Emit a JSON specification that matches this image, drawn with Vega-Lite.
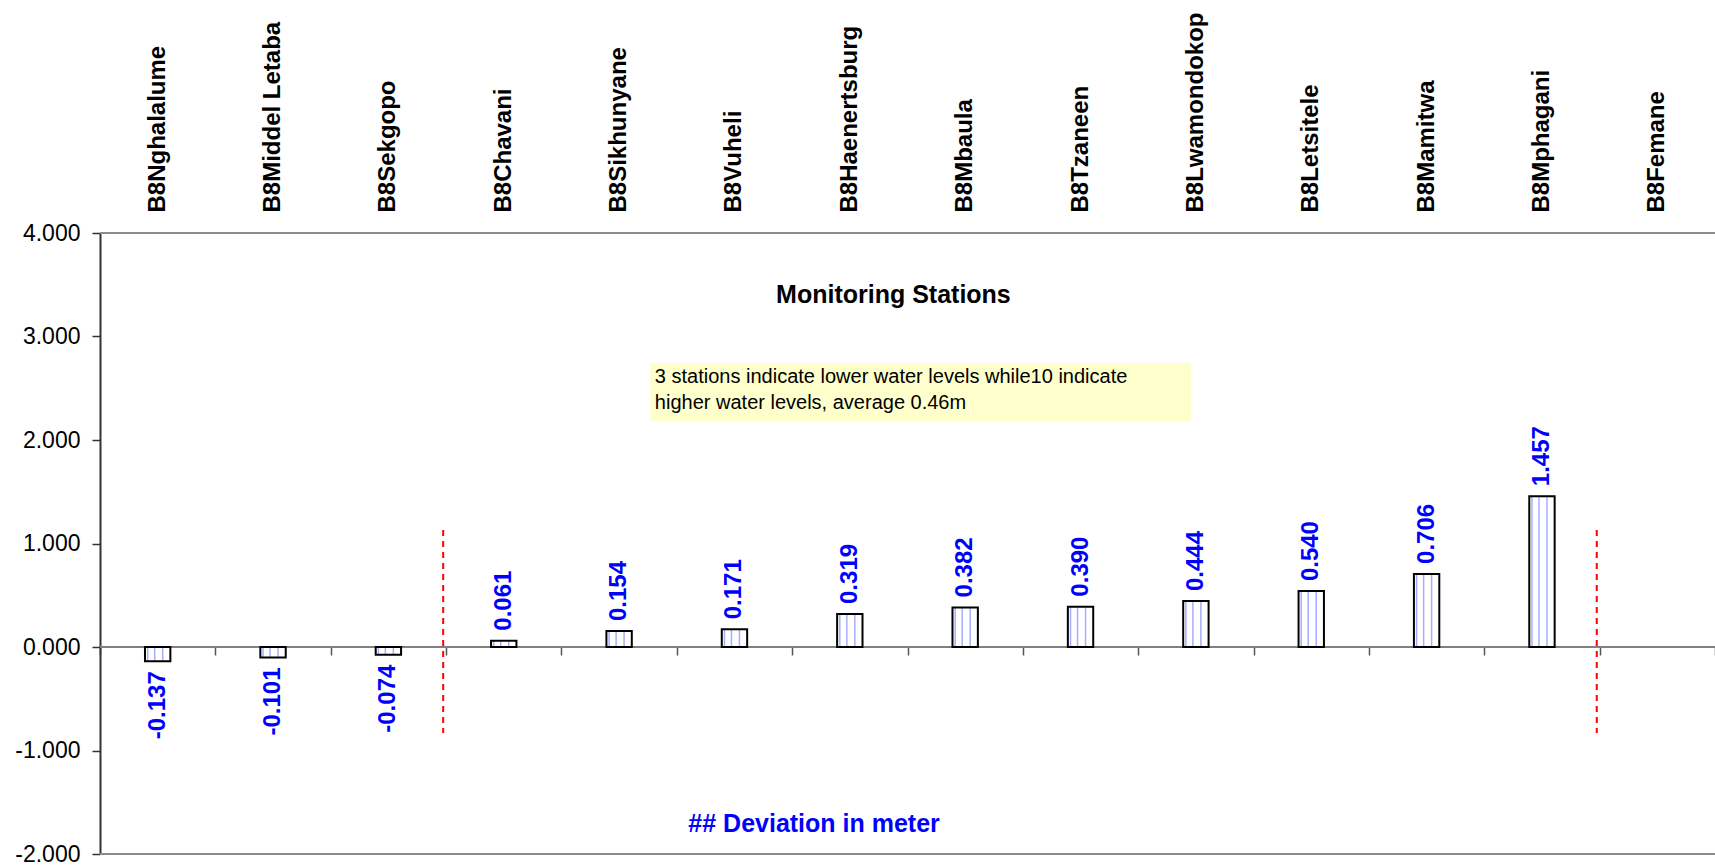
{
  "$schema": "https://vega.github.io/schema/vega-lite/v6.json",
  "width": 1615,
  "height": 621,
  "autosize": {"type": "none"},
  "padding": {"left": 100, "top": 233, "right": 0, "bottom": 13},
  "config": {
    "view": {"stroke": null},
    "font": "Liberation Sans",
    "locale": {"number": {"decimal": ".", "thousands": ",", "grouping": [3], "currency": ["$", ""], "minus": "-"}}
  },
  "datasets": {
    "stations": [
      {"station": "B8Nghalalume", "value": -0.137},
      {"station": "B8Middel Letaba", "value": -0.101},
      {"station": "B8Sekgopo", "value": -0.074},
      {"station": "B8Chavani", "value": 0.061},
      {"station": "B8Sikhunyane", "value": 0.154},
      {"station": "B8Vuheli", "value": 0.171},
      {"station": "B8Haenertsburg", "value": 0.319},
      {"station": "B8Mbaula", "value": 0.382},
      {"station": "B8Tzaneen", "value": 0.390},
      {"station": "B8Lwamondokop", "value": 0.444},
      {"station": "B8Letsitele", "value": 0.540},
      {"station": "B8Mamitwa", "value": 0.706},
      {"station": "B8Mphagani", "value": 1.457},
      {"station": "B8Femane", "value": null}
    ],
    "dividers": [
      {"station": "B8Sekgopo", "top": 1.13, "bottom": -0.83},
      {"station": "B8Mphagani", "top": 1.13, "bottom": -0.83}
    ],
    "box": [
      {"station": "B8Sikhunyane", "station2": "B8Lwamondokop", "top": 2.744, "bottom": 2.184}
    ],
    "note": [
      {"station": "B8Sikhunyane", "y": 2.605, "text": "3 stations indicate lower water levels while10 indicate"},
      {"station": "B8Sikhunyane", "y": 2.36, "text": "higher water levels, average 0.46m"}
    ],
    "heading": [
      {"station": "B8Haenertsburg", "y": 3.324, "text": "Monitoring Stations"}
    ],
    "caption": [
      {"station": "B8Haenertsburg", "y": -1.787, "text": "## Deviation in meter"}
    ],
    "frame": [
      {"level": 4},
      {"level": -2}
    ],
    "zero": [
      {"zero": 0}
    ]
  },
  "encoding": {
    "x": {
      "field": "station", "type": "nominal", "sort": null,
      "scale": {"type": "band", "domain": ["B8Nghalalume", "B8Middel Letaba", "B8Sekgopo", "B8Chavani", "B8Sikhunyane", "B8Vuheli", "B8Haenertsburg", "B8Mbaula", "B8Tzaneen", "B8Lwamondokop", "B8Letsitele", "B8Mamitwa", "B8Mphagani", "B8Femane"], "paddingInner": 0, "paddingOuter": 0},
      "axis": null
    }
  },
  "layer": [
    {
      "data": {"name": "frame"},
      "mark": {"type": "rule", "color": "#8c8c8c", "strokeWidth": 2},
      "encoding": {
        "x": null,
        "y": {
          "field": "level", "type": "quantitative",
          "scale": {"domain": [-2, 4], "nice": false, "zero": false},
          "axis": {"orient": "left", "values": [-2, -1, 0, 1, 2, 3, 4], "format": ".3f", "title": null, "grid": false, "domainColor": "#333333", "domainWidth": 2, "tickColor": "#333333", "tickWidth": 1.5, "tickSize": 8, "labelFontSize": 23, "labelColor": "black", "labelPadding": 12}
        }
      }
    },
    {
      "data": {"name": "zero"},
      "mark": {"type": "rule", "color": "#808080", "strokeWidth": 2},
      "encoding": {
        "x": null,
        "y": {"field": "zero", "type": "quantitative"}
      }
    },
    {
      "data": {"name": "box"},
      "mark": {"type": "rect", "fill": "#ffffcc"},
      "encoding": {
        "x": {"field": "station", "type": "nominal", "bandPosition": 0.77, "axis": null},
        "x2": {"field": "station2", "bandPosition": 0.458},
        "y": {"field": "top", "type": "quantitative"},
        "y2": {"field": "bottom"}
      }
    },
    {
      "data": {"name": "stations"},
      "mark": {"type": "bar", "width": {"band": 0.22}, "fill": "white"},
      "encoding": {
        "x": {
          "field": "station", "type": "nominal", "sort": null,
          "axis": {"orient": "top", "title": null, "labelAngle": -90, "labelAlign": "left", "labelBaseline": "middle", "labelPadding": 21, "ticks": false, "tickSize": 0, "domain": false, "labelFontSize": 24, "labelFontWeight": "bold", "labelColor": "black", "labelLimit": 500, "labelOverlap": false}
        },
        "y": {"field": "value", "type": "quantitative"}
      }
    },
    {
      "data": {"name": "stations"},
      "mark": {"type": "bar", "width": 1.5, "xOffset": -10, "fill": "#a6aeff"},
      "encoding": {"y": {"field": "value", "type": "quantitative"}}
    },
    {
      "data": {"name": "stations"},
      "mark": {"type": "bar", "width": 1.5, "xOffset": -3, "fill": "#a6aeff"},
      "encoding": {"y": {"field": "value", "type": "quantitative"}}
    },
    {
      "data": {"name": "stations"},
      "mark": {"type": "bar", "width": 1.5, "xOffset": 5, "fill": "#a6aeff"},
      "encoding": {"y": {"field": "value", "type": "quantitative"}}
    },
    {
      "data": {"name": "stations"},
      "mark": {"type": "bar", "width": {"band": 0.22}, "fill": "white", "fillOpacity": 0, "stroke": "black", "strokeWidth": 2},
      "encoding": {
        "x": {
          "field": "station", "type": "nominal", "sort": null,
          "axis": {"orient": "bottom", "offset": -207, "title": null, "labels": false, "domain": false, "ticks": true, "tickBand": "extent", "tickSize": 8, "tickColor": "#555555", "tickWidth": 1.5}
        },
        "y": {"field": "value", "type": "quantitative"}
      }
    },
    {
      "data": {"name": "stations"},
      "transform": [{"filter": "datum.value > 0"}],
      "mark": {"type": "text", "angle": 270, "align": "left", "baseline": "middle", "dx": 10, "fontSize": 24, "fontWeight": "bold", "color": "#0000ff"},
      "encoding": {
        "y": {"field": "value", "type": "quantitative"},
        "text": {"field": "value", "type": "quantitative", "format": ".3f"}
      }
    },
    {
      "data": {"name": "stations"},
      "transform": [{"filter": "datum.value < 0"}],
      "mark": {"type": "text", "angle": 270, "align": "right", "baseline": "middle", "dx": -10, "fontSize": 24, "fontWeight": "bold", "color": "#0000ff"},
      "encoding": {
        "y": {"field": "value", "type": "quantitative"},
        "text": {"field": "value", "type": "quantitative", "format": ".3f"}
      }
    },
    {
      "data": {"name": "dividers"},
      "mark": {"type": "rule", "color": "#ff0000", "strokeWidth": 2, "strokeDash": [6, 5]},
      "encoding": {
        "x": {"field": "station", "type": "nominal", "bandPosition": 0.975, "axis": null},
        "y": {"field": "top", "type": "quantitative"},
        "y2": {"field": "bottom"}
      }
    },
    {
      "data": {"name": "note"},
      "mark": {"type": "text", "align": "left", "baseline": "middle", "fontSize": 20, "color": "black"},
      "encoding": {
        "x": {"field": "station", "type": "nominal", "bandPosition": 0.81, "axis": null},
        "y": {"field": "y", "type": "quantitative"},
        "text": {"field": "text"}
      }
    },
    {
      "data": {"name": "heading"},
      "mark": {"type": "text", "align": "center", "baseline": "alphabetic", "fontSize": 25, "fontWeight": "bold", "color": "black"},
      "encoding": {
        "x": {"field": "station", "type": "nominal", "bandPosition": 0.878, "axis": null},
        "y": {"field": "y", "type": "quantitative"},
        "text": {"field": "text"}
      }
    },
    {
      "data": {"name": "caption"},
      "mark": {"type": "text", "align": "center", "baseline": "alphabetic", "fontSize": 25, "fontWeight": "bold", "color": "#0000ff"},
      "encoding": {
        "x": {"field": "station", "type": "nominal", "bandPosition": 0.19, "axis": null},
        "y": {"field": "y", "type": "quantitative"},
        "text": {"field": "text"}
      }
    }
  ]
}
